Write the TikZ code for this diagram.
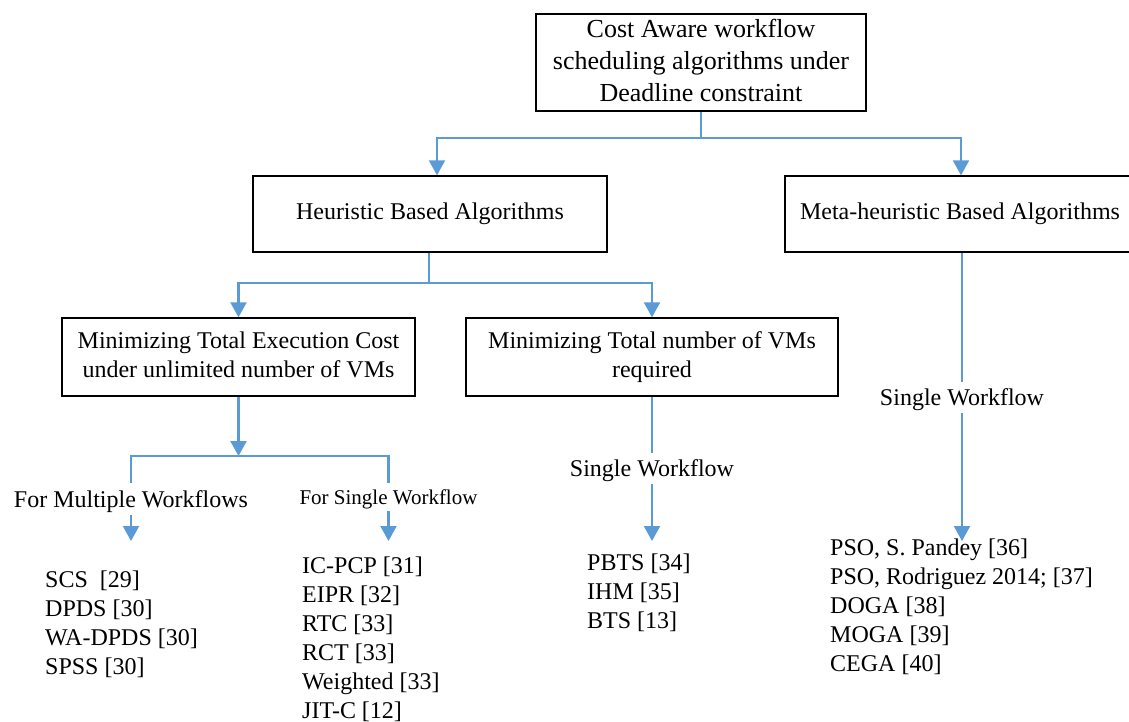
\documentclass[tikz,border=0pt]{standalone}
\usepackage{fontspec}
\setmainfont{Liberation Serif}
\usetikzlibrary{arrows.meta}
\definecolor{lineblue}{HTML}{5B9BD5}
\newcommand{\vs}{\rule[-5pt]{0pt}{21pt}}
\begin{document}
\begin{tikzpicture}[x=1pt,y=-1pt,
  box/.style={draw=black,line width=1.4pt,inner sep=0pt,align=center,font=\fontsize{24}{29}\selectfont},
  conn/.style={draw=lineblue,line width=2.2pt},
  arr/.style={conn,-{Triangle[width=16pt,length=15pt]}},
  lab/.style={inner xsep=2pt,inner ysep=2.5pt,text height=21pt,text depth=5pt,font=\fontsize{24}{29}\selectfont},
  item/.style={anchor=base west,inner sep=0pt,font=\fontsize{24}{29}\selectfont}]
\useasboundingbox (0,0) rectangle (1129,722);

% boxes
\node[box,minimum width=330pt,minimum height=97pt,font=\fontsize{26}{32}\selectfont] (root) at (701,62.5)
  {\vs Cost Aware workflow\\ scheduling algorithms under\\ Deadline constraint\vs};
\node[box,minimum width=354pt,minimum height=76pt] (heur) at (430,214) {\vs Heuristic Based Algorithms};
\node[box,minimum width=350pt,minimum height=76pt] (meta) at (960,214) {\vs Meta-heuristic Based Algorithms};
\node[box,minimum width=353pt,minimum height=78pt] (box1) at (238.5,357)
  {\vs Minimizing Total Execution Cost\\ under unlimited number of VMs\vs};
\node[box,minimum width=372pt,minimum height=78pt] (box2) at (652,357)
  {\vs Minimizing Total number of VMs\\ required\vs};

% root connectors
\coordinate (j1) at (701,138);
\draw[conn] (root.south) -- (j1);
\draw[arr] (j1) -| ([xshift=7pt]heur.north);
\draw[arr] (j1) -| ([xshift=1pt]meta.north);

% heuristic connectors
\coordinate (j2) at (429,283);
\draw[conn] ([xshift=-1pt]heur.south) -- (j2);
\draw[arr] (j2) -| (box1.north);
\draw[arr] (j2) -| (box2.north);

% labels
\node[lab] (labm) at (131,499) {For Multiple Workflows};
\node[lab,font=\fontsize{21}{25}\selectfont,text height=19pt,text depth=4pt] (labs) at (388.5,497) {For Single Workflow};
\node[lab] (lab2) at (652,468.5) {Single Workflow};
\node[lab] (lab3) at (962,397.5) {Single Workflow};

% box1 connectors
\coordinate (j3) at (238.5,456);
\draw[arr] (box1.south) -- (j3);
\draw[conn] (labm.north) |- (j3) -| (labs.north);
\coordinate (tl) at (131,541);
\coordinate (tr) at (388.5,541);
\draw[arr] (labm.south) -- (tl);
\draw[arr] (labs.south) -- (tr);

% box2 connector
\coordinate (t2) at (652,541);
\draw[conn] (box2.south) -- (lab2.north);
\draw[arr] (lab2.south) -- (t2);

% meta connector
\coordinate (t3) at (962,541);
\draw[conn] ([xshift=2pt]meta.south) -- (lab3.north);
\draw[arr] (lab3.south) -- (t3);

% lists
\foreach \t [count=\i] in {{SCS\ \ [29]},{DPDS [30]},{WA-DPDS [30]},{SPSS [30]}}
  \node[item] (a\i) at (45,558+29*\i) {\t};
\foreach \t [count=\i] in {{IC-PCP [31]},{EIPR [32]},{RTC [33]},{RCT [33]},{Weighted [33]},{JIT-C [12]}}
  \node[item] (b\i) at (302,544+29*\i) {\t};
\foreach \t [count=\i] in {{PBTS [34]},{IHM [35]},{BTS [13]}}
  \node[item] (c\i) at (587,541+29*\i) {\t};
\foreach \t [count=\i] in {{PSO, S. Pandey [36]},{PSO, Rodriguez 2014; [37]},{DOGA [38]},{MOGA [39]},{CEGA [40]}}
  \node[item] (d\i) at (830,526+29*\i) {\t};
\end{tikzpicture}
\end{document}
